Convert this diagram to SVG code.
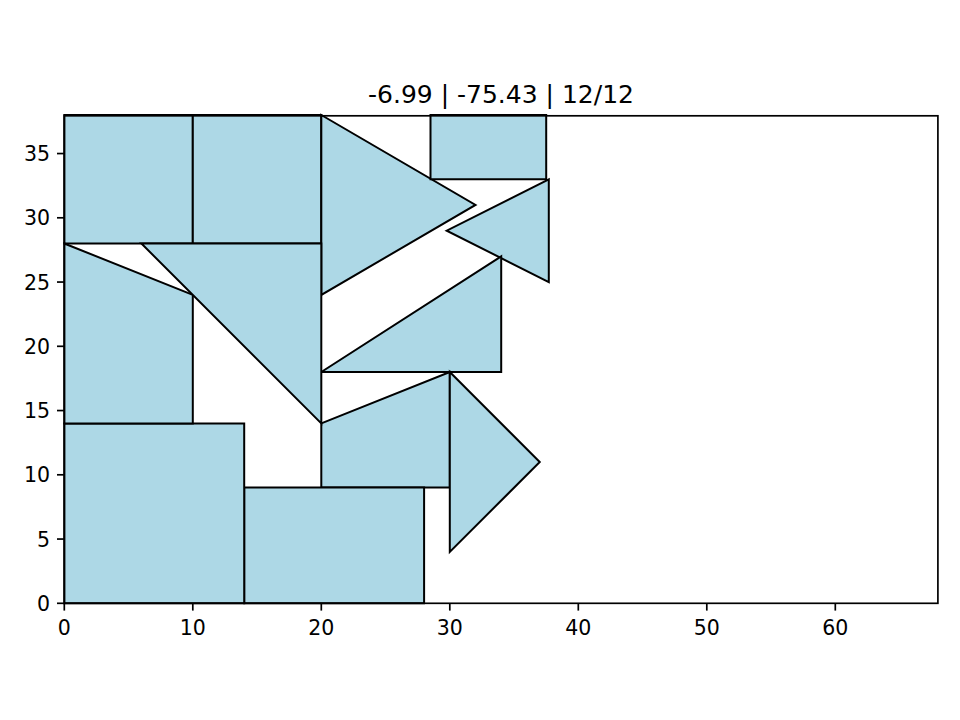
<svg xmlns="http://www.w3.org/2000/svg" width="960" height="720" viewBox="0 0 960 720">
<style>
.s{fill:#add8e6;stroke:#000;stroke-width:2;stroke-linejoin:miter}
.ax{fill:none;stroke:#000;stroke-width:1.7}
.tk{stroke:#000;stroke-width:1.7}
.t{font-family:"DejaVu Sans",sans-serif;font-size:20.5px;fill:#000}
.ti{font-family:"DejaVu Sans",sans-serif;font-size:25px;fill:#000}
</style>
<rect width="960" height="720" fill="#fff"/>
<text class="ti" x="501" y="103" text-anchor="middle">-6.99 | -75.43 | 12/12</text>
<g id="shapes">
<g id="n1"><polygon class="s" points="64.3,243.5 192.8,243.5 192.8,115 64.3,115"/></g>
<g id="n2"><polygon class="s" points="192.8,243.5 321.3,243.5 321.3,115 192.8,115"/></g>
<g id="n3"><polygon class="s" points="321.3,115 475.5,204.95 321.3,294.9"/></g>
<g id="n4"><polygon class="s" points="430.5,179.25 546.2,179.25 546.2,115 430.5,115"/></g>
<g id="n5"><polygon class="s" points="548.8,179.25 548.8,282.05 446.7,230.65"/></g>
<g id="n6"><polygon class="s" points="321.3,372 501.2,256.35 501.2,372"/></g>
<g id="n7"><polygon class="s" points="321.3,423.4 449.8,372 449.8,487.6 321.3,487.6"/></g>
<g id="n8"><polygon class="s" points="449.8,372 539.75,462 449.8,551.9"/></g>
<g id="n9"><polygon class="s" points="244.2,603.3 424.1,603.3 424.1,487.6 244.2,487.6"/></g>
<g id="n10"><polygon class="s" points="64.3,603.3 244.2,603.3 244.2,423.4 64.3,423.4"/></g>
<g id="n11"><polygon class="s" points="64.3,243.5 192.8,294.9 192.8,423.4 64.3,423.4"/></g>
<g id="n12"><polygon class="s" points="141.4,243.5 321.3,243.5 321.3,423.4"/></g>
</g>
<g id="axes">
<rect class="ax" x="64.3" y="115.8" width="873.6" height="487.5"/>
<g id="xticks">
<line class="tk" x1="64.3" y1="603.3" x2="64.3" y2="610.6"/>
<line class="tk" x1="192.8" y1="603.3" x2="192.8" y2="610.6"/>
<line class="tk" x1="321.3" y1="603.3" x2="321.3" y2="610.6"/>
<line class="tk" x1="449.8" y1="603.3" x2="449.8" y2="610.6"/>
<line class="tk" x1="578.3" y1="603.3" x2="578.3" y2="610.6"/>
<line class="tk" x1="706.8" y1="603.3" x2="706.8" y2="610.6"/>
<line class="tk" x1="835.3" y1="603.3" x2="835.3" y2="610.6"/>
<text class="t" x="64.3" y="635" text-anchor="middle">0</text>
<text class="t" x="192.8" y="635" text-anchor="middle">10</text>
<text class="t" x="321.3" y="635" text-anchor="middle">20</text>
<text class="t" x="449.8" y="635" text-anchor="middle">30</text>
<text class="t" x="578.3" y="635" text-anchor="middle">40</text>
<text class="t" x="706.8" y="635" text-anchor="middle">50</text>
<text class="t" x="835.3" y="635" text-anchor="middle">60</text>
</g>
<g id="yticks">
<line class="tk" x1="57" y1="603.3" x2="64.3" y2="603.3"/>
<line class="tk" x1="57" y1="539.05" x2="64.3" y2="539.05"/>
<line class="tk" x1="57" y1="474.8" x2="64.3" y2="474.8"/>
<line class="tk" x1="57" y1="410.55" x2="64.3" y2="410.55"/>
<line class="tk" x1="57" y1="346.3" x2="64.3" y2="346.3"/>
<line class="tk" x1="57" y1="282.05" x2="64.3" y2="282.05"/>
<line class="tk" x1="57" y1="217.8" x2="64.3" y2="217.8"/>
<line class="tk" x1="57" y1="153.55" x2="64.3" y2="153.55"/>
<text class="t" x="50" y="610.8" text-anchor="end">0</text>
<text class="t" x="50" y="546.55" text-anchor="end">5</text>
<text class="t" x="50" y="482.3" text-anchor="end">10</text>
<text class="t" x="50" y="418.05" text-anchor="end">15</text>
<text class="t" x="50" y="353.8" text-anchor="end">20</text>
<text class="t" x="50" y="289.55" text-anchor="end">25</text>
<text class="t" x="50" y="225.3" text-anchor="end">30</text>
<text class="t" x="50" y="161.05" text-anchor="end">35</text>
</g>
</g>
</svg>
